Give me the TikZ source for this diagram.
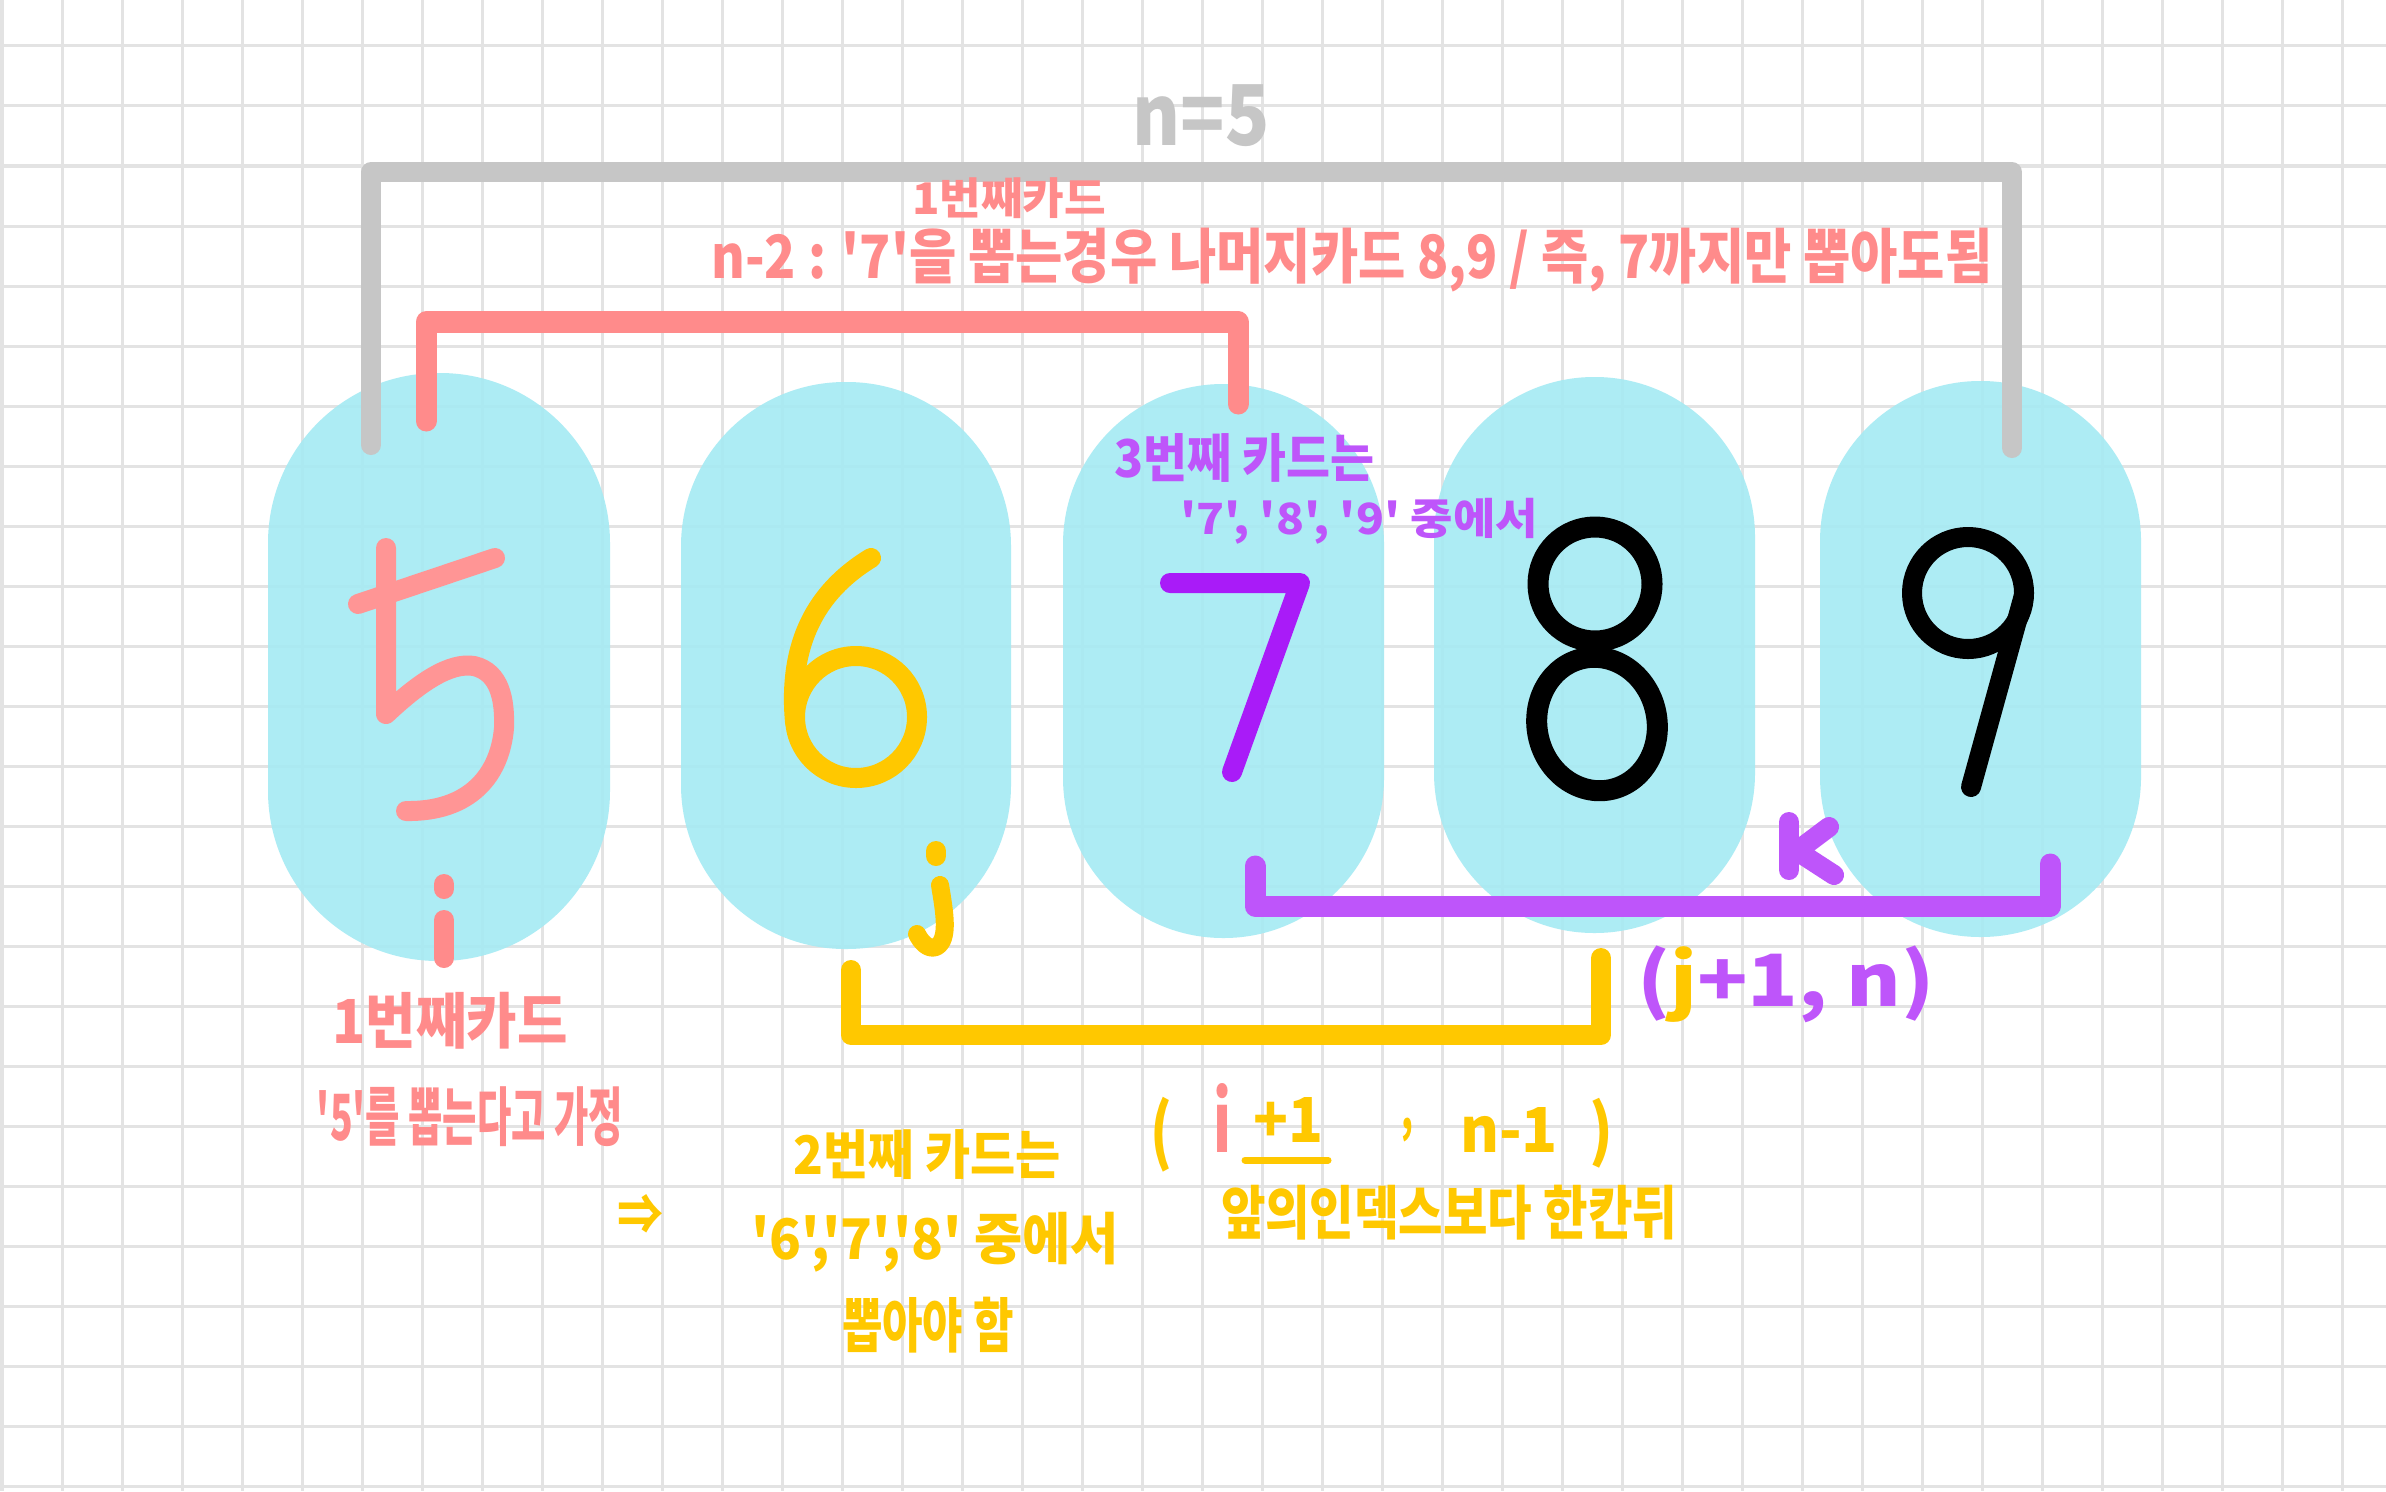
\documentclass[tikz,border=0pt]{standalone}
\usepackage{fontspec}
\usepackage{graphicx}
\setmainfont{Noto Sans CJK KR}[Ligatures=TeXOff]
\newlength\pxu
\setlength\pxu{0.01cm}
\newcommand\fb[3]{\resizebox*{#1\pxu}{#2\pxu}{#3}}
\definecolor{pinkc}{HTML}{FF8B8B}
\definecolor{pinkd}{HTML}{FF9595}
\definecolor{yel}{HTML}{FFC800}
\definecolor{purp}{HTML}{BE55FA}
\definecolor{purpd}{HTML}{A91BF8}
\definecolor{grayc}{HTML}{C6C6C6}
\definecolor{cyanc}{HTML}{A5EAF3}
\definecolor{gridc}{HTML}{E3E3E3}
\tikzset{
  gridl/.style={draw=gridc, line width=0.03cm},
  pill/.style={fill=cyanc, fill opacity=0.9},
  stroke/.style={line width=0.2cm, line cap=round, line join=round},
  lbl/.style={inner sep=0pt, outer sep=0pt, font=\bfseries},
}
\begin{document}
\begin{tikzpicture}[x=0.01cm,y=-0.01cm]
\useasboundingbox (0,0) rectangle (2386,1491);
\fill[white] (0,0) rectangle (2386,1491);
\foreach \gx in {2,62,...,2342} \draw[gridl] (\gx,0) -- (\gx,1491);
\foreach \gy in {46,106,...,1486} \draw[gridl] (0,\gy) -- (2386,\gy);

% cards
\fill[pill, rounded corners=1.70cm] (268,373) rectangle (610,961);
\fill[pill, rounded corners=1.64cm] (681,382) rectangle (1011,949);
\fill[pill, rounded corners=1.60cm] (1063,384) rectangle (1384,938);
\fill[pill, rounded corners=1.60cm] (1434,377) rectangle (1755,933);
\fill[pill, rounded corners=1.60cm] (1820,381) rectangle (2141,937);

% brackets
\draw[stroke, grayc] (371,445) -- (371,172) -- (2012,172) -- (2012,448);
\draw[stroke, pinkc, line width=0.21cm] (426,421) -- (426,322) -- (1238,322) -- (1238,404);
\draw[stroke, purp, line width=0.21cm] (1255,866) -- (1255,906) -- (2050,906) -- (2050,864);
\draw[stroke, yel] (851,970) -- (851,1035) -- (1601,1035) -- (1601,958);

% digits
\draw[stroke, pinkd] (386,548) -- (386,714) .. controls (420,682) and (450,662) .. (474,666) .. controls (500,672) and (505,700) .. (504,728) .. controls (500,775) and (470,812) .. (406,811);
\draw[stroke, pinkd] (358,604) -- (495,558);
\draw[stroke, yel] (856,717) circle[radius=61];
\draw[stroke, yel] (871,558) .. controls (815,592) and (788,645) .. (795,722);
\draw[stroke, purpd] (1170,583) -- (1300,583) -- (1232,772);
\draw[stroke, black, line width=0.21cm] (1595,584) circle[radius=57];
\draw[stroke, black, line width=0.21cm, rotate around={12:(1597,724)}] (1597,724) ellipse[x radius=60, y radius=67];
\draw[stroke, black] (1968,593) circle[radius=56];
\draw[stroke, black] (2024,595) -- (1971,787);

% i j k
\draw[stroke, pinkc] (444,884) -- (444,889);
\draw[stroke, pinkc] (444,920) -- (444,958);
\draw[stroke, yel, line width=0.2cm] (936,851) -- (936,856);
\draw[stroke, yel, line width=0.18cm] (940,885) .. controls (944,910) and (950,940) .. (936,947) .. controls (928,950) and (921,942) .. (917,934);
\draw[stroke, purp] (1789,822) -- (1789,870);
\draw[stroke, purp] (1829,827) -- (1797,851) -- (1834,875);

% texts
\node[lbl, text=grayc] (n5) at (1201,116) {\fb{137}{62}{n=5}};
\node[lbl, text=pinkc] (c1a) at (1009,198) {\fb{194}{41}{1번째카드}};
\node[lbl, text=pinkc] (mainline) at (1352,260) {\fb{1281}{64}{n-2 : '7'을 뽑는경우 나머지카드 8,9 / 즉, 7까지만 뽑아도됨}};
\node[lbl, text=purp] (c3a) at (1244,458) {\fb{260}{49}{3번째 카드는}};
\node[lbl, text=purp] (c3b) at (1359,521) {\fb{358}{46}{'7', '8', '9' 중에서}};
\node[lbl, text=pinkc] (c1b) at (450,1021) {\fb{235}{57}{1번째카드}};
\node[lbl, text=pinkc] (c1c) at (470,1117) {\fb{306}{60}{'5'를 뽑는다고 가정}};
\node[lbl, text=yel] (arr) at (640,1214) {\fb{46}{40}{⇒}};
\node[lbl, text=yel] (c2a) at (927,1155) {\fb{267}{50}{2번째 카드는}};
\node[lbl, text=yel] (c2b) at (935,1242) {\fb{368}{60}{'6','7','8' 중에서}};
\node[lbl, text=yel] (c2c) at (928,1325) {\fb{172}{56}{뽑아야 함}};
\node[lbl, text=yel] (lp1) at (1161,1135) {\fb{22}{75}{(}};
\node[lbl, text=pinkc] (ii) at (1222,1118) {\fb{18}{69}{i}};
\node[lbl, text=yel] (p1) at (1288,1120) {\fb{70}{45}{+1}};
\coordinate (ul1) at (1245,1160);
\coordinate (ul2) at (1328,1160);
\draw[yel, line width=0.07cm, line cap=round] (ul1) -- (ul2);
\node[lbl, text=yel] (cm1) at (1407,1130) {\fb{12}{24}{,}};
\node[lbl, text=yel] (nm1) at (1509,1130) {\fb{98}{45}{n-1}};
\node[lbl, text=yel] (rp1) at (1601,1133) {\fb{24}{70}{)}};
\node[lbl, text=yel] (front) at (1449,1213) {\fb{456}{55}{앞의인덱스보다 한칸뒤}};
\node[lbl, text=purp] (jn) at (1786,984) {\fb{298}{77}{(\textcolor{yel}{j}+1, n)}};
\end{tikzpicture}
\end{document}
